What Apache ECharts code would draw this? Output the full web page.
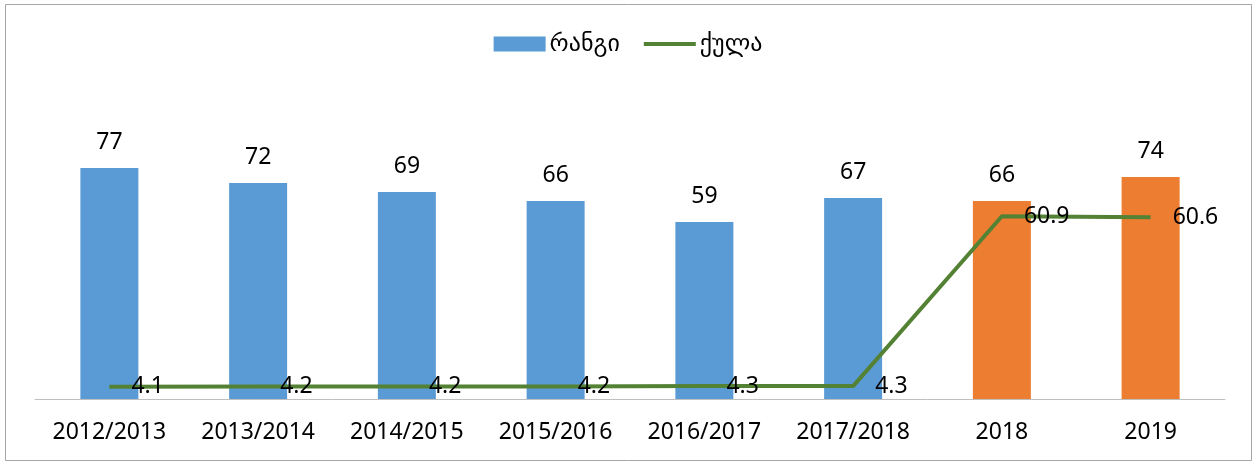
<!DOCTYPE html>
<html>
<head>
<meta charset="utf-8">
<script src="https://cdn.jsdelivr.net/npm/echarts@6/dist/echarts.min.js"></script>
<style>html,body{margin:0;padding:0;background:#fff}#c{width:1256px;height:465px}</style>
</head>
<body>
<div id="c"></div>
<script>
const categories = ['2012/2013','2013/2014','2014/2015','2015/2016','2016/2017','2017/2018','2018','2019'];
const rangiValues = [77, 72, 69, 66, 59, 67, 66, 74];
const kulaValues = [4.1, 4.2, 4.2, 4.2, 4.3, 4.3, 60.9, 60.6];
const highlightedCategories = ['2018', '2019'];

const FONT = '"Noto Sans", "DejaVu Sans", sans-serif';
const BLUE = '#5B9BD5', ORANGE = '#ED7D31', GREEN = '#548235';

const chart = echarts.init(document.getElementById('c'));
chart.setOption({
  animation: false,
  backgroundColor: '#fff',
  textStyle: { fontFamily: FONT },
  graphic: [{
    type: 'rect', shape: { x: 5.5, y: 4.5, width: 1246, height: 456 },
    style: { fill: 'none', stroke: '#A6A6A6', lineWidth: 1 }, silent: true, z: -1
  }],
  legend: {
    top: 27, left: 'center', itemWidth: 52, itemHeight: 15, itemGap: 24,
    textStyle: { fontSize: 24, color: '#000', fontFamily: FONT, padding: [0, 0, 0, -1] },
    data: [
      { name: 'რანგი', icon: 'rect' },
      { name: 'ქულა', icon: 'path://M0,0 L52,0 L52,4 L0,4 Z', itemStyle: { color: GREEN } }
    ]
  },
  grid: { left: 35, right: 31, top: 99, bottom: 66 },
  xAxis: {
    type: 'category', data: categories,
    axisLine: { lineStyle: { color: '#BFBFBF', width: 1 } },
    axisTick: { show: false },
    axisLabel: { fontSize: 23, color: '#000', margin: 22, fontFamily: FONT, interval: 0 }
  },
  yAxis: { type: 'value', min: 0, max: 100, show: false, splitLine: { show: false } },
  series: [
    {
      name: 'რანგი', type: 'bar', barWidth: 58,
      itemStyle: { color: BLUE },
      data: rangiValues.map((v, i) => ({
        value: v,
        itemStyle: { color: highlightedCategories.includes(categories[i]) ? ORANGE : BLUE }
      })),
      label: { show: true, position: 'top', distance: 14, fontSize: 23, color: '#000', fontFamily: FONT }
    },
    {
      name: 'ქულა', type: 'line', data: kulaValues, symbol: 'circle', symbolSize: 0, showSymbol: true,
      lineStyle: { color: GREEN, width: 4 }, itemStyle: { color: GREEN },
      label: { show: true, position: 'right', distance: 22, fontSize: 23, color: '#000', fontFamily: FONT },
      z: 3
    }
  ]
});
</script>
</body>
</html>
